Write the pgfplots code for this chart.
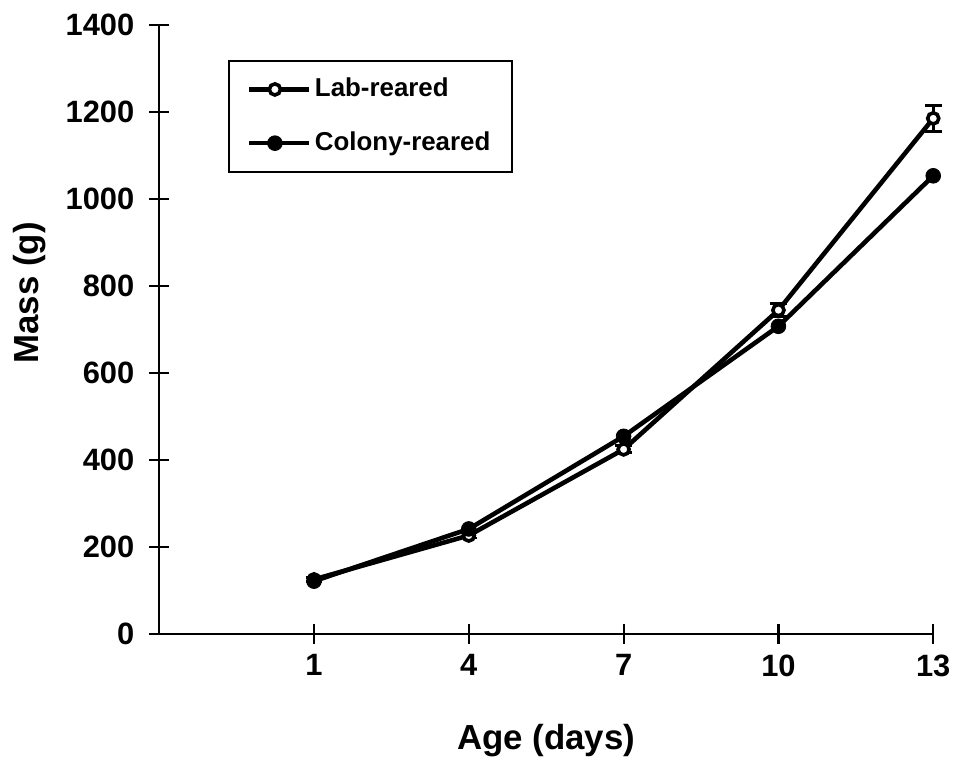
\documentclass[border=0pt]{standalone}
\usepackage{pgfplots}
\pgfplotsset{compat=1.18}
\usepackage{fontspec}
\setmainfont{Liberation Sans}

% Body mass of chicks by age, means with standard errors
\pgfplotstableread{
age mass err
1   125  4
4   226  6
7   424  8
10  744  15
13  1185 30
}\labdata
\pgfplotstableread{
age mass err
1   121  4
4   241  6
7   454  8
10  707  8
13  1053 8
}\colonydata

\begin{document}
\begin{tikzpicture}
\begin{axis}[
  scale only axis,
  width=389pt, height=306pt,
  xmin=-2, xmax=13,
  ymin=0, ymax=1400,
  axis x line=bottom, axis y line=left,
  axis line style={line width=1.2pt, -},
  xtick={1,4,7,10,13},
  ytick={0,200,...,1400},
  tick align=center,
  major tick length=10pt,
  tick style={line width=1.1pt, black},
  /pgf/number format/assume math mode=true,
  /pgf/number format/1000 sep={},
  tick label style={font=\fontsize{15.5}{18}\selectfont\bfseries},
  yticklabel style={xshift=-4pt},
  xticklabel style={yshift=-2pt},
  xlabel={Age (days)},
  ylabel={Mass (g)},
  label style={font=\fontsize{17.5}{20}\selectfont\bfseries},
  xlabel style={at={(axis description cs:0.5,-0.148)}, anchor=north, inner sep=0pt},
  ylabel style={at={(axis description cs:-0.189,0.56)}, anchor=north, inner sep=0pt},
  clip=false,
  legend style={
    at={(0.0887,0.943)}, anchor=north west,
    draw=black, line width=1pt,
    font=\fontsize{13}{15}\selectfont\bfseries,
    nodes={text height=9.5pt, text depth=2.5pt},
    inner xsep=9pt, inner ysep=6.5pt,
    row sep=11pt,
  },
  legend cell align=left,
  legend image code/.code={
    \draw[#1, mark repeat=2, mark phase=2]
      plot coordinates {(0pt,0pt) (13pt,0pt) (30pt,0pt)};
  },
]
\addplot[black, line width=2.3pt,
  mark=*, mark size=2.8pt,
  mark options={fill=white, draw=black, line width=1.8pt},
  error bars/.cd, y dir=both, y explicit,
  error mark options={rotate=90, mark size=4.2pt, line width=1.4pt},
  error bar style={line width=1.4pt}]
  table[x=age, y=mass, y error=err] {\labdata};
\addlegendentry{Lab-reared}

\addplot[black, line width=2.3pt,
  mark=*, mark size=3.7pt,
  mark options={fill=black, draw=black, line width=0.4pt}]
  table[x=age, y=mass] {\colonydata};
\addlegendentry{Colony-reared}
\end{axis}
% page extent around the axis
\path (current axis.south west) ++(-80pt,-65.5pt) (current axis.north east) ++(9.5pt,12.5pt);
\end{tikzpicture}
\end{document}
